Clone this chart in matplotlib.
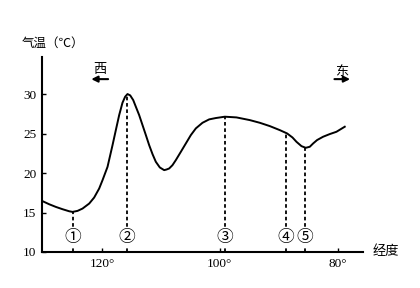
import matplotlib
matplotlib.use("Agg")
import matplotlib.pyplot as plt

plt.rcParams['font.family'] = ['Liberation Serif', 'Noto Sans CJK SC', 'DejaVu Sans']

# Curve: longitude (°E) and temperature (°C)
lon = [130.22, 128.98, 127.84, 126.71, 125.58, 125.01, 124.16, 123.32, 122.18, 121.34,
       120.49, 119.92, 119.07, 118.22, 117.66, 117.09, 116.53, 116.08, 115.68, 115.22,
       114.71, 114.26, 113.70, 113.13, 112.56, 112.00, 111.43, 110.87, 110.19, 109.45,
       109.05, 108.60, 108.04, 107.47, 106.62, 105.77, 104.92, 104.07, 102.94, 101.81,
       100.68, 99.15, 97.17, 94.91, 93.21, 91.51, 89.81, 88.57, 87.66, 86.98,
       86.13, 85.40, 84.72, 84.15, 83.48, 82.46, 81.32, 80.19, 78.78]
temp = [16.48, 16.05, 15.71, 15.42, 15.16, 15.08, 15.21, 15.50, 16.14, 16.90,
        18.04, 19.10, 20.79, 23.54, 25.44, 27.35, 28.91, 29.67, 30.01, 29.84,
        29.25, 28.40, 27.35, 26.08, 24.81, 23.54, 22.40, 21.43, 20.71, 20.37,
        20.45, 20.58, 21.00, 21.64, 22.69, 23.75, 24.81, 25.66, 26.37, 26.80,
        26.97, 27.14, 27.05, 26.71, 26.37, 25.95, 25.44, 25.02, 24.51, 23.96,
        23.41, 23.20, 23.33, 23.75, 24.18, 24.60, 24.94, 25.23, 25.87]

# Marked points
mark_lon = [124.9, 115.8, 99.2, 88.8, 85.6]
mark_temp = [15.1, 30.0, 27.1, 25.0, 23.2]
mark_labels = ['①', '②', '③', '④', '⑤']

xticks = [120, 100, 80]
xtick_labels = ['120°', '100°', '80°']
yticks = [10, 15, 20, 25, 30]

fig = plt.figure(figsize=(4.2, 2.88), dpi=100)
ax = fig.add_axes([0.1, 0.125, 0.764, 0.677])
ax.set_xlim(130.2, 75.7)
ax.set_ylim(10, 34.7)

ax.plot(lon, temp, color='black', lw=1.4, solid_joinstyle='round')

for x, y, lab in zip(mark_lon, mark_temp, mark_labels):
    ax.plot([x, x], [10, y], color='black', lw=1.3, ls=(0, (2.0, 1.5)))
    ax.text(x, 11.8, lab, ha='center', va='center', fontsize=12,
            family=['Noto Sans CJK SC'],
            bbox=dict(facecolor='white', edgecolor='none', pad=0.1))

for s in ['top', 'right']:
    ax.spines[s].set_visible(False)
for s in ['left', 'bottom']:
    ax.spines[s].set_linewidth(1.5)

ax.set_xticks(xticks)
ax.set_xticklabels(xtick_labels, fontsize=9.5)
ax.set_yticks(yticks)
ax.set_yticklabels([str(v) for v in yticks], fontsize=9.5)
ax.tick_params(direction='in', length=3, width=1.0, pad=4)

# axis labels
ax.text(0.034, 1.035, '气温（℃）', transform=ax.transAxes, ha='center', va='bottom',
        fontsize=9, family=['Noto Sans CJK SC'])
ax.text(1.03, 0.0, '经度', transform=ax.transAxes, ha='left', va='center',
        fontsize=9.5, family=['Noto Sans CJK SC'])

# direction arrows
ax.text(120.4, 33.1, '西', ha='center', va='center', fontsize=9.5,
        family=['Noto Sans CJK SC'])
ax.annotate('', xy=(122.3, 31.9), xytext=(118.5, 31.9),
            arrowprops=dict(arrowstyle='-|>', color='black', lw=1.5,
                            mutation_scale=9))
ax.text(79.3, 32.9, '东', ha='center', va='center', fontsize=9.5,
        family=['Noto Sans CJK SC'])
ax.annotate('', xy=(77.4, 31.9), xytext=(81.0, 31.9),
            arrowprops=dict(arrowstyle='-|>', color='black', lw=1.5,
                            mutation_scale=9))

fig.savefig('out.png', dpi=100)
